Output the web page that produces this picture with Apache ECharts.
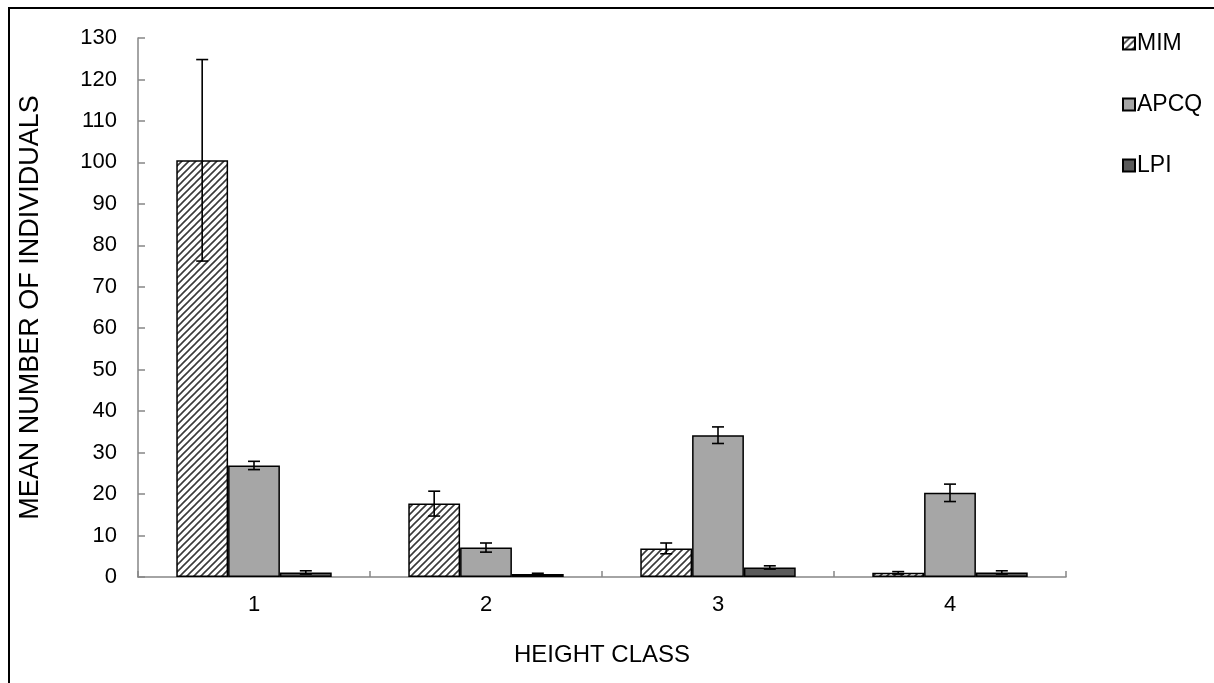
<!DOCTYPE html>
<html>
<head>
<meta charset="utf-8">
<script src="https://cdn.jsdelivr.net/npm/echarts@6/dist/echarts.min.js"></script>
<style>
  html, body { margin: 0; padding: 0; background: #fff; }
  #chart { width: 1214px; height: 683px; }
</style>
</head>
<body>
<div id="chart"></div>
<script>
// Height classes on the x axis
const categories = ['1', '2', '3', '4'];
// Mean number of individuals per method
const mimValues  = [100.5, 17.7, 6.9, 1.0];
const apcqValues = [26.9, 7.1, 34.2, 20.3];
const lpiValues  = [1.1, 0.7, 2.3, 1.1];
// Error bar half-widths (± around the mean)
const mimErr  = [24.3, 3.0, 1.3, 0.3];
const apcqErr = [1.0, 1.1, 2.0, 2.1];
const lpiErr  = [0.4, 0.2, 0.4, 0.4];
// Value axis ticks
const yTicks = { min: 0, max: 130, interval: 10 };

const seriesNames = ['MIM', 'APCQ', 'LPI'];
const seriesValues = [mimValues, apcqValues, lpiValues];
const seriesErrors = [mimErr, apcqErr, lpiErr];

// Diagonal hatch fill for the MIM bars
function hatchPattern() {
  const size = 7;
  const c = document.createElement('canvas');
  c.width = size; c.height = size;
  const ctx = c.getContext('2d');
  ctx.fillStyle = '#ffffff';
  ctx.fillRect(0, 0, size, size);
  ctx.strokeStyle = '#3a3a3a';
  ctx.lineWidth = 1.6;
  ctx.beginPath();
  ctx.moveTo(-1, size + 1); ctx.lineTo(size + 1, -1);
  ctx.moveTo(-1, 1); ctx.lineTo(1, -1);
  ctx.moveTo(size - 1, size + 1); ctx.lineTo(size + 1, size - 1);
  ctx.stroke();
  return { image: c, repeat: 'repeat' };
}

const fills = [hatchPattern(), '#a6a6a6', '#5a5a5a'];
const categoryGap = 0.33;

const barSeries = seriesNames.map((name, i) => ({
  name: name,
  type: 'bar',
  data: seriesValues[i],
  barGap: '0%',
  barCategoryGap: (categoryGap * 100) + '%',
  itemStyle: { color: fills[i], borderColor: '#000', borderWidth: 1.5 },
  emphasis: { disabled: true },
  z: 2
}));

// Error bars, one item per bar: [category index, low, high, series index]
const errData = [];
seriesValues.forEach((vals, s) => {
  vals.forEach((v, c) => {
    errData.push([c, v - seriesErrors[s][c], v + seriesErrors[s][c], s]);
  });
});

const errorSeries = {
  type: 'custom',
  name: 'err',
  data: errData,
  encode: { x: 0, y: [1, 2] },
  z: 5,
  silent: true,
  renderItem: function (params, api) {
    const c = api.value(0);
    const s = api.value(3);
    const band = api.size([1, 0])[0];
    const barW = band * (1 - categoryGap) / seriesNames.length;
    const cx = api.coord([c, 0])[0] + (s - (seriesNames.length - 1) / 2) * barW;
    const yLow = api.coord([c, api.value(1)])[1];
    const yHigh = api.coord([c, api.value(2)])[1];
    const cap = 6;
    const style = { stroke: '#000', lineWidth: 1.6, fill: null };
    return {
      type: 'group',
      children: [
        { type: 'line', shape: { x1: cx, y1: yLow, x2: cx, y2: yHigh }, style: style },
        { type: 'line', shape: { x1: cx - cap, y1: yHigh, x2: cx + cap, y2: yHigh }, style: style },
        { type: 'line', shape: { x1: cx - cap, y1: yLow, x2: cx + cap, y2: yLow }, style: style }
      ]
    };
  }
};

const font = 'Liberation Sans, Arial, sans-serif';
const axisGray = '#868686';

const chart = echarts.init(document.getElementById('chart'), null, { renderer: 'canvas' });
chart.setOption({
  animation: false,
  backgroundColor: '#ffffff',
  grid: { left: 138, right: 148, top: 38, bottom: 106, containLabel: false },
  legend: {
    data: seriesNames,
    orient: 'vertical',
    left: 1117,
    top: 27,
    itemWidth: 12,
    itemHeight: 12,
    itemGap: 38,
    icon: 'rect',
    textStyle: { fontFamily: font, fontSize: 23, color: '#000', padding: [0, 0, 0, -3] }
  },
  xAxis: {
    type: 'category',
    data: categories,
    name: 'HEIGHT CLASS',
    nameLocation: 'middle',
    nameGap: 66,
    nameTextStyle: { fontFamily: font, fontSize: 24, color: '#000' },
    axisLine: { show: true, lineStyle: { color: axisGray, width: 1.5 } },
    axisTick: { show: true, inside: true, length: 6, lineStyle: { color: axisGray, width: 1.5 } },
    axisLabel: { fontFamily: font, fontSize: 22, color: '#000', margin: 17 },
    splitLine: { show: false }
  },
  yAxis: {
    type: 'value',
    min: yTicks.min,
    max: yTicks.max,
    interval: yTicks.interval,
    name: 'MEAN NUMBER OF INDIVIDUALS',
    nameLocation: 'middle',
    nameGap: 94,
    nameTextStyle: { fontFamily: font, fontSize: 27, color: '#000' },
    axisLine: { show: true, lineStyle: { color: axisGray, width: 1.5 } },
    axisTick: { show: true, inside: true, length: 7, lineStyle: { color: axisGray, width: 1.5 } },
    axisLabel: { fontFamily: font, fontSize: 22, color: '#000', margin: 21 },
    splitLine: { show: false }
  },
  graphic: [{
    type: 'rect',
    shape: { x: 9, y: 8, width: 1260, height: 720 },
    style: { fill: null, stroke: '#000', lineWidth: 2 },
    silent: true,
    z: 0
  }],
  series: barSeries.concat([errorSeries])
});
</script>
</body>
</html>
